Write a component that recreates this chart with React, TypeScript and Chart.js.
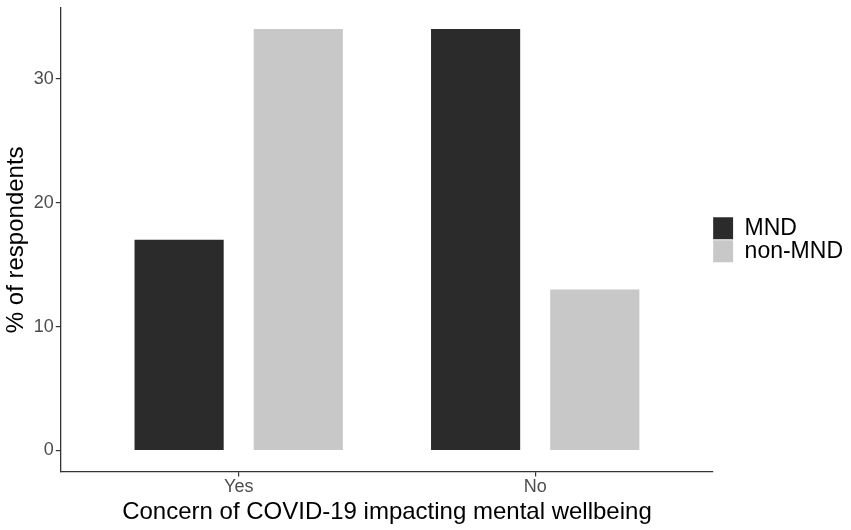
import { useEffect, useRef } from "react";
import { Chart, registerables } from "chart.js";

Chart.register(...registerables);

// Categories on the x axis and the two respondent groups
const CATEGORIES = ["Yes", "No"];
const MND_VALUES = [17, 34];
const NON_MND_VALUES = [34, 13];
const Y_TICKS = [0, 10, 20, 30];

const FONT = "'Liberation Sans', Arial, sans-serif";
const TICK_COLOR = "#4d4d4d";
const AXIS_COLOR = "#333333";

export default function App() {
  const canvasRef = useRef<HTMLCanvasElement>(null);

  useEffect(() => {
    if (!canvasRef.current) return;
    const toPoints = (vals: number[]) => vals.map((v, i) => ({ x: i + 1, y: v }));

    const chart = new Chart(canvasRef.current, {
      type: "bar",
      data: {
        datasets: [
          {
            label: "MND",
            data: toPoints(MND_VALUES),
            backgroundColor: "#2b2b2b",
            borderWidth: 0,
            categoryPercentage: 0.804,
            barPercentage: 0.748,
          },
          {
            label: "non-MND",
            data: toPoints(NON_MND_VALUES),
            backgroundColor: "#c8c8c8",
            borderWidth: 0,
            categoryPercentage: 0.804,
            barPercentage: 0.748,
          },
        ],
      },
      options: {
        animation: false,
        responsive: true,
        maintainAspectRatio: false,
        layout: { padding: { top: 8, right: -2, bottom: 3, left: 2 } },
        plugins: {
          tooltip: { enabled: false },
          legend: {
            position: "right",
            fullSize: false,
            labels: {
              boxWidth: 20,
              boxHeight: 22,
              padding: 0,
              color: "#000",
              font: { family: FONT, size: 23 },
            },
          },
        },
        scales: {
          x: {
            type: "linear",
            min: 0.4,
            max: 2.6,
            offset: false,
            afterBuildTicks: (axis) => {
              axis.ticks = CATEGORIES.map((_, i) => ({ value: i + 1 }));
            },
            grid: {
              display: true,
              offset: false,
              drawOnChartArea: false,
              tickLength: 5,
              color: AXIS_COLOR,
              lineWidth: 1.2,
            },
            border: { display: true, color: AXIS_COLOR, width: 1.3 },
            ticks: {
              padding: 0,
              color: TICK_COLOR,
              font: { family: FONT, size: 18 },
              maxRotation: 0,
              callback: (v) => CATEGORIES[Number(v) - 1] ?? "",
            },
            title: {
              display: true,
              text: "Concern of COVID-19 impacting mental wellbeing",
              color: "#000",
              font: { family: FONT, size: 24 },
              padding: { top: 0, bottom: 0 },
            },
          },
          y: {
            min: -1.7,
            max: 35.7,
            afterBuildTicks: (axis) => {
              axis.ticks = Y_TICKS.map((v) => ({ value: v }));
            },
            afterFit: (axis) => {
              // the top tick sits well below the axis end, no room needed for it
              axis.paddingTop = 0;
            },
            grid: { display: true, drawOnChartArea: false, tickLength: 5, color: AXIS_COLOR, lineWidth: 1.2 },
            border: { display: true, color: AXIS_COLOR, width: 1.3 },
            ticks: {
              padding: 2,
              color: TICK_COLOR,
              font: { family: FONT, size: 18 },
            },
            title: {
              display: true,
              text: "% of respondents",
              color: "#000",
              font: { family: FONT, size: 24 },
              padding: { top: 0, bottom: 1 },
            },
          },
        },
      },
    });
    return () => chart.destroy();
  }, []);

  return (
    <div style={{ position: "absolute", left: 0, top: 0, width: 851, height: 530, background: "#fff" }}>
      <canvas ref={canvasRef} />
    </div>
  );
}
